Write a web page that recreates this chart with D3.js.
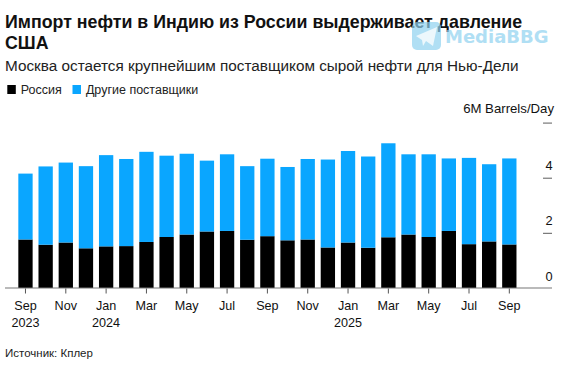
<!DOCTYPE html>
<html>
<head>
<meta charset="utf-8">
<script src="https://cdn.jsdelivr.net/npm/d3@7"></script>
<style>
  html, body { margin: 0; padding: 0; background: #fff; }
  text { font-family: "Liberation Sans", Arial, sans-serif; fill: #111; }
  .domain { display: none; }
</style>
</head>
<body>
<svg id="chart" width="568" height="370"></svg>
<script>
// Values, million barrels per day
const months = ["Sep 2023","Oct 2023","Nov 2023","Dec 2023","Jan 2024","Feb 2024","Mar 2024","Apr 2024","May 2024","Jun 2024","Jul 2024","Aug 2024","Sep 2024","Oct 2024","Nov 2024","Dec 2024","Jan 2025","Feb 2025","Mar 2025","Apr 2025","May 2025","Jun 2025","Jul 2025","Aug 2025","Sep 2025"];
const russia = [1.76,1.57,1.65,1.44,1.51,1.52,1.67,1.85,1.94,2.05,2.07,1.75,1.88,1.73,1.76,1.47,1.65,1.46,1.84,1.94,1.85,2.07,1.59,1.69,1.58];
const others = [2.39,2.84,2.90,2.98,3.31,3.16,3.27,2.95,2.93,2.57,2.78,2.67,2.81,2.66,2.92,3.19,3.32,3.31,3.41,2.91,3.00,2.63,3.13,2.80,3.12];
const xTicks = ["Sep 2023","Nov 2023","Jan 2024","Mar 2024","May 2024","Jul 2024","Sep 2024","Nov 2024","Jan 2025","Mar 2025","May 2025","Jul 2025","Sep 2025"];
const yTicks = [0,2,4,6];
const legendLabels = ["Россия","Другие поставщики"];

const black = "#000000";
const blue = "#0aa6ff";
const svg = d3.select("#chart");

// Scales
let xScale = d3.scaleBand()
  .domain(months)
  .range([15.4, 519.4])
  .paddingInner(0.29)
  .paddingOuter(0.145);

let yScale = d3.scaleLinear()
  .domain([0, 6])
  .range([288, 122.6]);

// Title block
svg.append("text").attr("x", 5).attr("y", 27.7)
  .style("font-size", "17.8px").style("font-weight", "bold")
  .text("Импорт нефти в Индию из России выдерживает давление");
svg.append("text").attr("x", 5).attr("y", 49)
  .style("font-size", "17.8px").style("font-weight", "bold")
  .text("США");
svg.append("text").attr("x", 5).attr("y", 71)
  .style("font-size", "15.3px").style("fill", "#222")
  .text("Москва остается крупнейшим поставщиком сырой нефти для Нью-Дели");

// Legend
const legendX = [7.3, 72.5];
legendLabels.forEach((label, i) => {
  svg.append("rect").attr("x", legendX[i]).attr("y", 85)
    .attr("width", 8.5).attr("height", 9)
    .attr("fill", i === 0 ? black : blue);
  svg.append("text").attr("x", legendX[i] + 13.4).attr("y", 94)
    .style("font-size", "12.5px").style("fill", "#222")
    .text(label);
});

// Unit label
svg.append("text").attr("x", 554).attr("y", 113)
  .attr("text-anchor", "end")
  .style("font-size", "13.2px")
  .text("6M Barrels/Day");

// Bars
const bars = svg.append("g").attr("id", "bars");
bars.selectAll("rect.russia")
  .data(months)
  .enter()
  .append("rect")
  .attr("class", "russia")
  .attr("x", d => xScale(d))
  .attr("width", xScale.bandwidth())
  .attr("y", (d, i) => yScale(russia[i]))
  .attr("height", (d, i) => yScale(0) - yScale(russia[i]))
  .attr("fill", black);
bars.selectAll("rect.others")
  .data(months)
  .enter()
  .append("rect")
  .attr("class", "others")
  .attr("x", d => xScale(d))
  .attr("width", xScale.bandwidth())
  .attr("y", (d, i) => yScale(russia[i] + others[i]))
  .attr("height", (d, i) => yScale(russia[i]) - yScale(russia[i] + others[i]))
  .attr("fill", blue);

// Baseline
svg.append("line")
  .attr("x1", 5).attr("x2", 552)
  .attr("y1", yScale(0)).attr("y2", yScale(0))
  .attr("stroke", "#777").attr("stroke-width", 1.2);

// X axis, with the year on a second line for Sep 2023 and each January
let xAxis = d3.axisBottom(xScale)
  .tickValues(xTicks)
  .tickSize(5)
  .tickSizeOuter(0)
  .tickFormat(d => d.split(" ")[0]);

const xG = svg.append("g")
  .attr("id", "xAxis")
  .attr("transform", `translate(0, ${yScale(0) + 0.5})`)
  .call(xAxis);
xG.selectAll("line").attr("stroke", "#555");
xG.selectAll("text")
  .attr("y", 12.7)
  .style("font-size", "12.6px")
  .style("fill", "#111");
xG.selectAll(".tick")
  .filter(d => d === "Sep 2023" || d.startsWith("Jan"))
  .append("text")
  .attr("y", 29.9)
  .attr("dy", "0.71em")
  .attr("text-anchor", "middle")
  .style("font-size", "12.6px")
  .style("fill", "#111")
  .text(d => d.split(" ")[1]);

// Y axis, labels sit on top of the tick marks
let yAxis = d3.axisLeft(yScale)
  .tickValues(yTicks)
  .tickSize(9)
  .tickSizeOuter(0)
  .tickFormat(d => d === 6 ? "" : d);

const yG = svg.append("g")
  .attr("id", "yAxis")
  .attr("transform", "translate(552, 0)")
  .call(yAxis);
yG.selectAll("line").attr("stroke", "#777").attr("stroke-width", 1.2);
yG.selectAll(".tick").filter(d => d === 0).select("line").remove();
yG.selectAll("text")
  .attr("x", 0.5)
  .attr("y", -8)
  .attr("dy", 0)
  .style("font-size", "12.8px")
  .style("fill", "#111");

// Source
svg.append("text").attr("x", 5).attr("y", 357)
  .style("font-size", "11.5px").style("fill", "#222")
  .text("Источник: Кплер");

// Watermark
const mark = svg.append("g").attr("opacity", 0.7);
mark.append("rect").attr("x", 412).attr("y", 22)
  .attr("width", 29).attr("height", 28).attr("rx", 5)
  .attr("fill", "#8fd2f0");
mark.append("path").attr("d", "M416 36 L437 27 L433 46 L426 41 L423 46 L422 40 Z").attr("fill", "#e4f5fc");
mark.append("text").attr("x", 445).attr("y", 43)
  .style("font-family", "'DejaVu Sans'")
  .style("font-size", "18px").style("font-weight", "bold")
  .style("fill", "#8fd2f0")
  .text("MediaBBG");
</script>
</body>
</html>
